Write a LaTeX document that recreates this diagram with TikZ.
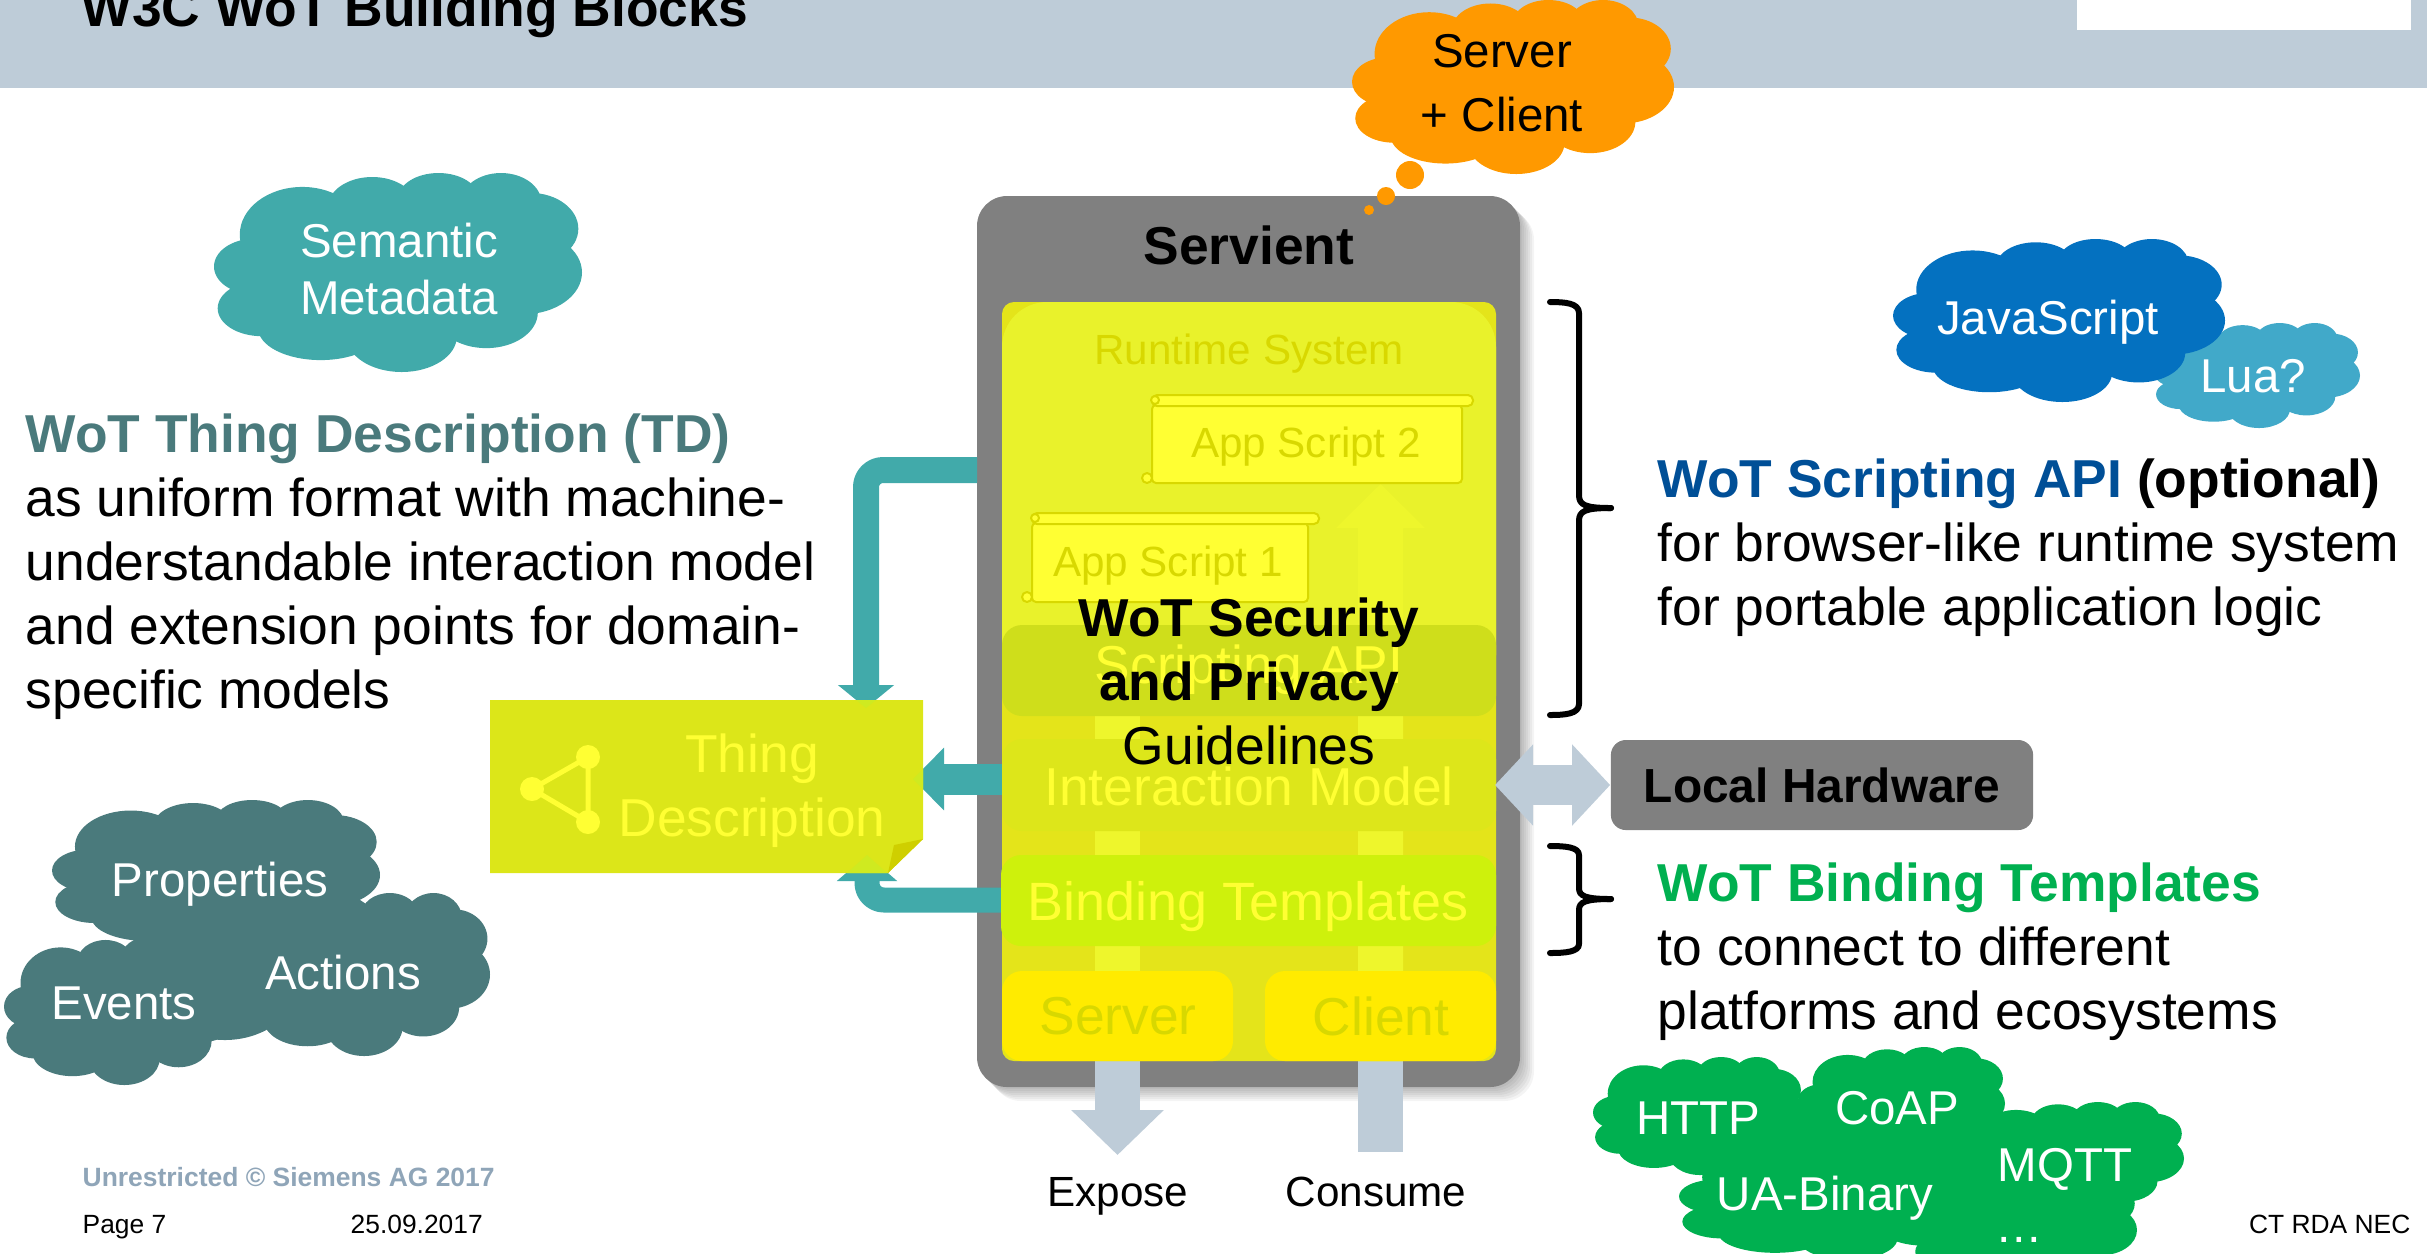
\documentclass[tikz,border=0pt]{standalone}
\usepackage{fontspec}
\setmainfont{Liberation Sans}
\usetikzlibrary{arrows.meta,positioning}
\definecolor{bandblue}{HTML}{BECCD8}
\definecolor{tealfill}{HTML}{41AAAA}
\definecolor{tealdark}{HTML}{4A7A7C}
\definecolor{greyfill}{HTML}{808080}
\definecolor{basefill}{HTML}{E4E41A}
\definecolor{runfill}{HTML}{E9F22B}
\definecolor{pillar}{HTML}{EEF62C}
\definecolor{scrollfill}{HTML}{FFFF33}
\definecolor{dimtext}{HTML}{D8D800}
\definecolor{apifill}{HTML}{CFDE1B}
\definecolor{modelfill}{HTML}{DDE61A}
\definecolor{bindfill}{HTML}{CEF10C}
\definecolor{rolefill}{HTML}{FFEB00}
\definecolor{tdfill}{HTML}{DCE619}
\definecolor{tipfill}{HTML}{CFEA20}
\definecolor{foldfill}{HTML}{CFCF00}
\definecolor{wotgreen}{HTML}{00B050}
\definecolor{jsblue}{HTML}{0471C0}
\definecolor{apiblue}{HTML}{004F97}
\definecolor{luablue}{HTML}{41A9C9}
\definecolor{thinkorange}{HTML}{FF9900}
\definecolor{footgrey}{HTML}{8FA5B8}
% one cloud: left, top, right, bottom, colour
\newcommand{\wotcloud}[5]{
	\foreach \u/\v/\a/\b in {.24/.31/.17/.24,.43/.17/.12/.15,.61/.13/.11/.13,.78/.15/.11/.15,
		.86/.28/.13/.18,.84/.50/.16/.21,.74/.70/.14/.18,.51/.82/.15/.18,
		.29/.78/.17/.16,.13/.68/.12/.14,.11/.47/.11/.14,.50/.50/.38/.38}
	{
		\fill[#5] ({#1+\u*(#3-#1)},{#2+\v*(#4-#2)}) ellipse [x radius={\a*(#3-#1)},y radius={\b*(#4-#2)}];
	}
}
% one scroll: body left, bar top, body right, body bottom
\newcommand{\appscroll}[4]{
	\filldraw[scrollpaper,rounded corners=.04cm] (#1,#2+10) rectangle (#3,#4);
	\filldraw[scrollpaper,rounded corners=.05cm] (#1,#2) rectangle (#3+11,#2+11);
	\filldraw[scrollpaper] (#1+3,#2+5) circle (4);
	\filldraw[scrollpaper] (#1-5,#4-5) circle (5);
}
\begin{document}
\begin{tikzpicture}[x=.01cm,y=-.01cm,line join=round,>=stealth]
\tikzset{
	bigtext/.style={font=\fontsize{15.18}{18.2}\selectfont,inner sep=0pt},
	boldtext/.style={font=\fontsize{15.18}{18.2}\selectfont\bfseries,inner sep=0pt},
	midtext/.style={font=\fontsize{13.5}{18}\selectfont,inner sep=0pt},
	smalltext/.style={font=\fontsize{12}{14}\selectfont,inner sep=0pt},
	foottext/.style={font=\fontsize{7.5}{9}\selectfont,inner sep=0pt},
	scrollpaper/.style={fill=scrollfill,draw=dimtext,line width=.2mm},
	tealline/.style={draw=tealfill,rounded corners=.17cm},
	greyline/.style={draw=bandblue,line width=.45cm}
}
\clip (0,0) rectangle (2427,1253);
% header
\fill[bandblue] (0,0) rectangle (2427,88);
\fill[white] (2077,0) rectangle (2411,30);
\node[boldtext,anchor=base west] (title) at (81,26) {W3C WoT Building Blocks};
% the servient, with a soft shadow
\foreach \i in {1,...,7}
{
	\fill[black,opacity=.045,rounded corners=.3cm] (977+\i*2,196+\i*2) rectangle (1520+\i*2,1087+\i*2);
}
\fill[greyfill,rounded corners=.3cm] (977,196) rectangle (1520,1087);
\node[boldtext] (servient) at (1249,245) {Servient};
% arrows which leave the servient
\coordinate (topstart) at (977,470);
\coordinate (midstart) at (1010,779);
\coordinate (lowstart) at (1010,900);
\coordinate (exposeend) at (1117.5,1155);
\coordinate (consumeend) at (1380.5,1152);
\coordinate (exposestart) at (1117.5,1040);
\coordinate (consumestart) at (1380.5,1040);
\draw[greyline,-{Triangle[length=.45cm,width=.9cm]}] (exposestart) -- (exposeend);
\draw[greyline] (consumestart) -- (consumeend);
\draw[tealline,line width=.26cm,-{Triangle[length=.23cm,width=.55cm]}] (topstart) -- (866,470) -- (866,708);
\draw[tealline,line width=.31cm,-{Triangle[length=.31cm,width=.61cm]}] (midstart) -- (913,779);
\draw[tealline,line width=.25cm,-{Triangle[length=.26cm,width=.59cm]}] (lowstart) -- (867,900) -- (867,855);
% inner panels
\fill[basefill,rounded corners=.12cm] (1002,302) rectangle (1496,1061);
\fill[runfill,rounded corners=.45cm] (1002,302) rectangle (1496,700);
\fill[pillar] (1095,700) rectangle (1140,1061);
\fill[pillar] (1358,1061) -- (1358,528) -- (1336,528) -- (1380.5,484) -- (1425,528) -- (1403,528) -- (1403,1061) -- cycle;
\fill[apifill,rounded corners=.2cm] (1002,625) rectangle (1496,716);
\fill[modelfill,rounded corners=.2cm] (1002,739) rectangle (1496,831);
\fill[bindfill,rounded corners=.2cm] (1001,855) rectangle (1496,946);
\fill[rolefill,rounded corners=.2cm] (1002,971) rectangle (1233,1061);
\fill[rolefill,rounded corners=.2cm] (1265,971) rectangle (1496,1061);
\node[smalltext,text=dimtext] (runtime) at (1249,354) {Runtime System};
\appscroll{1152}{395}{1462}{483}
\appscroll{1032}{513}{1308}{602}
\node[smalltext,text=dimtext] (scripttwo) at (1306,447) {App Script 2};
\node[smalltext,text=dimtext] (scriptone) at (1168,566) {App Script 1};
\node[bigtext,text=scrollfill] (scripting) at (1249,670) {Scripting API};
\node[bigtext,text=scrollfill] (model) at (1249,786) {Interaction Model};
\node[bigtext,font=\fontsize{15.35}{18.2}\selectfont,text=scrollfill] (binding) at (1248,907) {Binding Templates};
\node[bigtext,text=dimtext] (server) at (1118,1016) {Server};
\node[bigtext,text=dimtext] (client) at (1381,1016) {Client};
\node[bigtext,align=center] (security) at (1249,681) {\textbf{WoT Security}\\\textbf{and Privacy}\\Guidelines};
\node[smalltext,anchor=base] (expose) at (1118,1206) {Expose};
\node[smalltext,anchor=base] (consume) at (1376,1206) {Consume};
% thing description
\fill[tdfill] (490,700) -- (923,700) -- (923,839) -- (888,873) -- (490,873) -- cycle;
\fill[foldfill] (923,839) -- (894,845) -- (888,873) -- cycle;
\fill[tipfill] (856,700) -- (876,700) -- (866,708) -- cycle;
\fill[tipfill] (923,769) -- (923,789) -- (913,779) -- cycle;
\fill[tipfill] (847,873) -- (887,873) -- (867,855) -- cycle;
\foreach \name/\x/\y in {dota/588/757,dotb/532/789,dotc/588/822}
{
	\fill[scrollfill] (\x,\y) circle (12) coordinate (\name);
}
\draw[scrollfill,line width=.05cm] (dota) -- (dotb) -- (dotc) -- cycle;
\node[bigtext,text=scrollfill,align=center] (thing) at (752,791) {Thing\\Description};
% hardware
\node[fill=greyfill,rounded corners=.15cm,minimum width=4.22cm,minimum height=.9cm,inner sep=0pt,font=\fontsize{13.6}{16}\selectfont\bfseries] (hardware) at (1822,785) {Local Hardware};
\coordinate (hardwarestart) at (1495,785);
\draw[draw=bandblue,line width=.4cm,{Triangle[length=.38cm,width=.79cm]}-{Triangle[length=.38cm,width=.79cm]}] (hardwarestart) -- (hardware.west);
% braces
\draw[line width=.06cm,line cap=round] (1550,302) .. controls (1565,302) and (1579,303) .. (1579,313) -- (1579,495) .. controls (1579,505) and (1585,508) .. (1611,508);
\draw[line width=.06cm,line cap=round] (1550,715) .. controls (1565,715) and (1579,714) .. (1579,704) -- (1579,521) .. controls (1579,511) and (1585,508) .. (1611,508);
\draw[line width=.06cm,line cap=round] (1550,846) .. controls (1565,846) and (1579,847) .. (1579,855) -- (1579,888) .. controls (1579,896) and (1585,899) .. (1611,899);
\draw[line width=.06cm,line cap=round] (1550,953) .. controls (1565,953) and (1579,952) .. (1579,944) -- (1579,910) .. controls (1579,902) and (1585,899) .. (1611,899);
% left and right texts
\node[bigtext,anchor=north west,align=left] (tdtext) at (25,413) {\textcolor{tealdark}{\textbf{WoT Thing Description (TD)}}\\as uniform format with machine-\\understandable interaction model\\and extension points for domain-\\specific models};
\node[bigtext,anchor=north west,align=left] (apitext) at (1657,458) {\textcolor{apiblue}{\textbf{WoT Scripting API}} \textbf{(optional)}\\for browser-like runtime system\\for portable application logic};
\node[bigtext,anchor=north west,align=left] (bindtext) at (1657,862) {\textcolor{wotgreen}{\textbf{WoT Binding Templates}}\\to connect to different\\platforms and ecosystems};
% clouds
\wotcloud{214}{173}{582}{372}{tealfill}
\node[midtext,font=\fontsize{13.5}{16}\selectfont,text=white,align=center] (semantic) at (399,269) {Semantic\\Metadata};
\wotcloud{52}{800}{380}{950}{tealdark}
\wotcloud{233}{893}{490}{1056}{tealdark}
\wotcloud{4}{937}{240}{1085}{tealdark}
\fill[tealdark] (225,970) ellipse [x radius=80,y radius=70];
\node[midtext,text=white] (properties) at (220,884) {Properties};
\node[midtext,text=white] (actions) at (343,973) {Actions};
\node[midtext,text=white] (events) at (124,1003) {Events};
\wotcloud{2154}{323}{2360}{428}{luablue}
\wotcloud{1893}{239}{2225}{402}{jsblue}
\node[midtext,text=white] (javascript) at (2048,322) {JavaScript};
\node[midtext,text=white] (lua) at (2253,376) {Lua?};
\wotcloud{1352}{0}{1674}{174}{thinkorange}
\foreach \x/\y/\r in {1410/175/14,1386/196/9,1369/210/5}
{
	\fill[thinkorange] (\x,\y) circle (\r);
}
\node[midtext,align=center] (thought) at (1502,83) {Server\\+ Client};
\wotcloud{1593}{1057}{1803}{1175}{wotgreen}
\wotcloud{1798}{1047}{2005}{1160}{wotgreen}
\wotcloud{1963}{1102}{2184}{1215}{wotgreen}
\wotcloud{1679}{1140}{2010}{1260}{wotgreen}
\wotcloud{1913}{1170}{2137}{1290}{wotgreen}
\fill[wotgreen] (1830,1140) ellipse [x radius=80,y radius=45];
\fill[wotgreen] (1970,1180) ellipse [x radius=60,y radius=60];
\node[midtext,text=white] (http) at (1698,1118) {HTTP};
\node[midtext,text=white] (coap) at (1897,1108) {CoAP};
\node[midtext,text=white] (mqtt) at (2065,1169) {MQTT};
\node[midtext,text=white] (uabinary) at (1825,1198) {UA-Binary};
\node[midtext,text=white] (dots) at (2019,1240) {\dots};
% footer
\node[foottext,font=\fontsize{7.52}{9}\selectfont\bfseries,text=footgrey,anchor=base west] (rights) at (82,1186) {Unrestricted © Siemens AG 2017};
\node[foottext,anchor=base west] (page) at (82,1233) {Page 7};
\node[foottext,anchor=base west] (date) at (350,1233) {25.09.2017};
\node[foottext,anchor=base east] (unit) at (2411,1233) {CT RDA NEC};
\end{tikzpicture}
\end{document}
